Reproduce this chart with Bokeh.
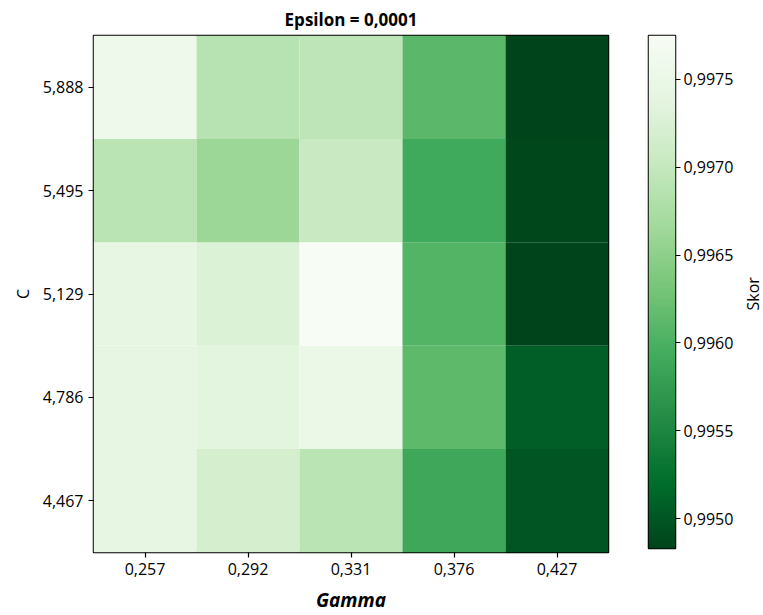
import numpy as np
from bokeh.plotting import figure
from bokeh.layouts import row
from bokeh.models import (ColumnDataSource, LinearColorMapper, FixedTicker,
                          CustomJSTickFormatter, Range1d, Label)
from bokeh.transform import transform
from bokeh.embed import file_html
from bokeh.resources import INLINE

# ---- data ----
gamma_labels = ["0,257", "0,292", "0,331", "0,376", "0,427"]
c_labels = ["4,467", "4,786", "5,129", "5,495", "5,888"]  # bottom -> top
skor_c_4467 = [0.99743, 0.99717, 0.99690, 0.99588, 0.99498]
skor_c_4786 = [0.99743, 0.99737, 0.99749, 0.99614, 0.99506]
skor_c_5129 = [0.99743, 0.99728, 0.99775, 0.99606, 0.99483]
skor_c_5495 = [0.99690, 0.99661, 0.99702, 0.99591, 0.99486]
skor_c_5888 = [0.99757, 0.99687, 0.99693, 0.99611, 0.99483]
cbar_ticks = [0.9950, 0.9955, 0.9960, 0.9965, 0.9970, 0.9975]

rows = [skor_c_4467, skor_c_4786, skor_c_5129, skor_c_5495, skor_c_5888]
xs, ys, vals = [], [], []
for c, r in zip(c_labels, rows):
    for g, v in zip(gamma_labels, r):
        xs.append(g); ys.append(c); vals.append(v)
src = ColumnDataSource(dict(x=xs, y=ys, v=vals))

# Greens palette (dark -> light), interpolated to 256
greens9 = ['#00441b', '#006d2c', '#238b45', '#41ab5d', '#74c476',
           '#a1d99b', '#c7e9c0', '#e5f5e0', '#f7fcf5']
rgb = np.array([[int(h[i:i + 2], 16) for i in (1, 3, 5)] for h in greens9], float)
pos = np.linspace(0, 1, len(greens9))
t = np.linspace(0, 1, 256)
pal = []
for tt in t:
    c = [np.interp(tt, pos, rgb[:, k]) for k in range(3)]
    pal.append("#%02x%02x%02x" % tuple(int(round(x)) for x in c))

lo, hi = min(vals), max(vals)
mapper = LinearColorMapper(palette=pal, low=lo, high=hi)

FONT = "Open Sans"

p = figure(x_range=gamma_labels, y_range=c_labels, frame_width=515, frame_height=517,
           output_backend="svg", toolbar_location=None,
           title="Epsilon = 0,0001", min_border_left=93, min_border_right=20,
           min_border_top=33, min_border_bottom=65)
p.rect(x="x", y="y", width=1, height=1, source=src,
       fill_color=transform("v", mapper), line_color=None)
p.title.align = "center"
p.title.vertical_align = "middle"
p.title.text_font = FONT
p.title.text_font_size = "17px"
p.title.text_font_style = "bold"
p.title.text_color = "black"
p.title.offset = 0
p.title.standoff = 7
p.grid.visible = False
p.outline_line_color = "black"
p.outline_line_width = 1.5
p.background_fill_color = "white"
for ax in (p.xaxis, p.yaxis):
    ax.major_label_text_font = FONT
    ax.major_label_text_font_size = "16px"
    ax.major_label_text_color = "black"
    ax.axis_line_color = None
    ax.major_tick_line_color = "black"
    ax.major_tick_line_width = 1.2
    ax.major_tick_out = 5
    ax.major_tick_in = 0
    ax.minor_tick_line_color = None
    ax.axis_label_text_font = FONT
    ax.axis_label_text_color = "black"
p.xaxis.axis_label = "Gamma"
p.xaxis.axis_label_text_font_size = "19px"
p.xaxis.axis_label_text_font_style = "bold italic"
p.xaxis.axis_label_standoff = 9
p.xaxis.major_label_standoff = 5
p.yaxis.axis_label = "C"
p.yaxis.axis_label_text_font_size = "16px"
p.yaxis.axis_label_text_font_style = "normal"
p.yaxis.axis_label_standoff = 6
p.yaxis.major_label_standoff = 5

# colorbar as its own figure
cb = figure(x_range=Range1d(0, 1), y_range=Range1d(lo, hi), frame_width=27,
            frame_height=513, output_backend="svg", toolbar_location=None,
            min_border_left=20, min_border_right=67, min_border_top=35,
            min_border_bottom=67, y_axis_location="right")
grad = np.linspace(lo, hi, 256).reshape(256, 1)
cb.image(image=[grad], x=0, y=lo, dw=1, dh=hi - lo, color_mapper=mapper)
cb.xaxis.visible = False
cb.grid.visible = False
cb.outline_line_color = "black"
cb.outline_line_width = 1.5
cb.yaxis.ticker = FixedTicker(ticks=cbar_ticks)
cb.yaxis.formatter = CustomJSTickFormatter(code="return tick.toFixed(4).replace('.', ',');")
cb.yaxis.major_label_text_font = FONT
cb.yaxis.major_label_text_font_size = "16px"
cb.yaxis.major_label_text_color = "black"
cb.yaxis.axis_line_color = None
cb.yaxis.major_tick_line_color = "black"
cb.yaxis.major_tick_line_width = 1.2
cb.yaxis.major_tick_out = 5
cb.yaxis.major_tick_in = 0
cb.yaxis.minor_tick_line_color = None
cb.yaxis.major_label_standoff = 3

# strip holding the colorbar title "Skor" (reads bottom-to-top)
lab = figure(frame_width=21, frame_height=615, x_range=Range1d(0, 1), y_range=Range1d(0, 1),
             output_backend="svg", toolbar_location=None, min_border=0,
             x_axis_location=None, y_axis_location=None)
lab.grid.visible = False
lab.outline_line_color = None
lab.add_layout(Label(x=0.5, y=0.58, text="Skor", angle=np.pi / 2,
                     text_align="center", text_baseline="middle", text_font=FONT,
                     text_font_size="16px", text_color="black"))

layout = row(p, cb, lab)
open("out.html", "w").write(file_html(layout, INLINE))
